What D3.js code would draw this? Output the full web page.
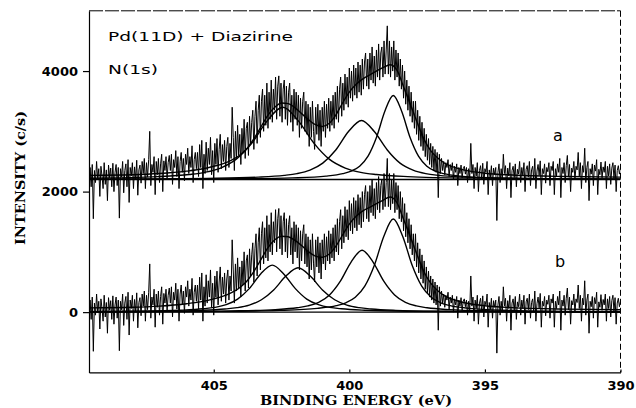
<!DOCTYPE html>
<html><head><meta charset="utf-8">
<script src="https://cdn.jsdelivr.net/npm/d3@7"></script>
<style>html,body{margin:0;padding:0;background:#fff;} svg{display:block;}</style>
</head><body>
<svg id="chart" width="636" height="408"></svg>
<script>
// ---- data (intensity in c/s) ----
const energyStart = 409.6, energyStep = 0.04;   // eV grid of the raw spectrum
// raw N(1s) counts (same measured spectrum shown twice, relative to its own baseline)
const counts = [
 -300,200,-120,250,-650,150,-50,300,0,180,-280,220,60,-150,280,-80,160,-350,240,30,190,-120,270,-200,120,
 250,-100,200,-640,180,40,300,-220,150,260,-120,330,-380,200,60,280,-150,210,0,320,-260,160,240,-60,300,
 100,350,-150,280,40,330,800,-100,250,120,380,-250,300,80,350,-50,260,420,-200,310,150,380,20,280,400,
 150,420,-80,330,200,480,50,380,-150,300,450,120,350,-20,420,250,520,100,380,200,560,-50,330,450,180,
 450,50,580,200,650,-150,420,100,620,150,520,250,700,80,480,-50,600,250,680,120,500,750,180,580,300,
 650,150,550,700,200,600,350,1200,700,150,800,350,900,400,750,250,850,450,1000,350,850,950,400,1050,600,
 950,1150,500,1050,1300,600,1150,1400,700,1300,1500,800,1400,900,1600,850,1450,1000,1650,950,1500,1150,1700,1000,1550,
 1720,1050,1600,950,1500,1650,1000,1550,900,1450,1600,950,1400,800,1500,1000,1450,900,1400,700,1350,850,1300,1450,800,
 1300,750,1250,550,1200,700,1300,800,500,1200,750,1250,650,1150,550,1200,800,1300,700,1250,850,1350,800,1300,900,
 1400,850,1450,1000,1550,950,1500,1700,1050,1600,1150,1750,1250,1700,1200,1850,1350,1800,1300,1900,1400,1850,1350,1950,1450,
 1900,1400,2000,1500,1950,2100,1550,2000,1500,2100,1650,2200,1600,2050,1550,2150,1700,2250,1650,2100,2200,1700,2300,1750,2150,
 2550,1750,2300,1700,2200,1800,2300,1650,2150,1700,2100,1550,2000,1500,1900,1350,1800,1250,1650,1150,1550,1050,1450,950,1300,
 850,1300,750,1150,650,1050,550,950,480,850,380,750,320,680,250,600,200,550,150,500,120,450,-300,420,100,
 350,150,300,80,280,200,330,50,250,150,280,0,220,120,260,-100,200,100,240,30,180,220,90,200,-50,
 180,20,600,100,250,-150,200,60,280,-200,150,230,10,270,-80,180,120,300,-250,160,40,230,-100,190,80,
 200,-680,120,260,-50,180,0,420,100,230,-150,190,60,280,-300,150,220,30,260,-120,170,90,300,-50,200,
 60,280,-200,170,230,40,300,-100,160,220,0,350,-150,140,250,70,310,-250,180,100,260,-60,200,130,280,
 -100,220,150,300,-250,180,60,260,120,350,-300,200,100,280,-50,230,400,40,250,-200,190,120,300,0,220,
 160,450,60,280,-150,230,120,520,-50,200,300,-350,180,90,260,-100,240,140,330,-250,170,80,290,30,210,
 120,300,-150,220,60,260,-80,190,280,20,240,-200,150,230,90,180
];
const offsetA = 2200, offsetB = 0;

// fitted components, [binding energy, intensity above baseline]
const baseA = [[409.6,0],[390,0]];
const fitA1 = [[409.6,3],[403.96,12],[402.10,27],[400.86,57],[400.24,98],[399.93,140],[399.62,222],[399.31,388],[399.00,698],[398.69,1133],[398.38,1395],[398.07,1133],[397.76,698],[397.45,388],[397.14,222],[396.83,140],[396.52,98],[395.90,57],[394.66,27],[392.80,12],[390,5]];
const fitA2 = [[409.6,6],[408.10,8],[405.25,19],[403.35,40],[402.40,69],[401.93,98],[401.45,156],[400.98,272],[400.50,490],[400.03,796],[399.55,980],[399.08,796],[398.60,490],[398.13,272],[397.65,156],[397.18,98],[396.70,69],[395.75,40],[393.85,19],[391.00,8],[390,7]];
const fitA3 = [[409.6,22],[407.05,49],[405.90,84],[405.33,120],[404.75,191],[404.18,334],[403.60,600],[403.03,974],[402.45,1200],[401.88,974],[401.30,600],[400.73,334],[400.15,191],[399.58,120],[399.00,84],[397.85,49],[395.55,23],[390,7]];
const envA = [[409.6,70],[408,80],[407,100],[406,140],[405.5,170],[405,220],[404.5,290],[404,420],[403.75,530],[403.5,690],[403.25,880],[403,1070],[402.75,1200],[402.5,1270],[402.25,1260],[402,1190],[401.75,1090],[401.5,990],[401.25,910],[401,880],[400.75,930],[400.5,1070],[400.25,1270],[400,1450],[399.75,1580],[399.5,1670],[399.25,1735],[399,1800],[398.75,1860],[398.5,1905],[398.25,1820],[398,1540],[397.75,1250],[397.5,950],[397.25,670],[397,480],[396.75,360],[396.5,275],[396,185],[395.5,135],[395,105],[394,75],[392,50],[390,40]];

const baseB = [[409.6,0],[390,0]];
const fitB1 = [[409.6,5],[404.68,13],[402.58,29],[401.18,63],[400.48,108],[400.13,155],[399.78,246],[399.43,430],[399.08,773],[398.73,1255],[398.38,1545],[398.03,1255],[397.68,773],[397.33,430],[396.98,246],[396.63,155],[396.28,108],[395.58,63],[394.18,29],[392.08,13],[390,7]];
const fitB2 = [[409.6,5],[406.73,9],[404.33,20],[402.73,42],[401.93,72],[401.53,103],[401.13,163],[400.73,286],[400.33,514],[399.93,835],[399.53,1028],[399.13,835],[398.73,514],[398.33,286],[397.93,163],[397.53,103],[397.13,72],[396.33,42],[394.73,20],[392.33,9],[390,5]];
const fitB3 = [[409.6,7],[407.29,14],[405.49,30],[404.59,52],[404.14,74],[403.69,117],[403.24,205],[402.79,368],[402.34,598],[401.89,736],[401.44,598],[400.99,368],[400.54,205],[400.09,117],[399.64,74],[399.19,52],[398.29,30],[396.49,14],[394.69,8],[390,3]];
const fitB4 = [[409.6,9],[407.94,15],[406.24,32],[405.39,55],[404.97,78],[404.54,124],[404.12,217],[403.69,390],[403.27,633],[402.84,780],[402.42,633],[401.99,390],[401.57,217],[401.14,124],[400.72,78],[400.29,55],[399.44,32],[397.74,15],[395.19,8],[390,2]];
const envB = [[409.6,70],[408,80],[407,100],[406,140],[405.5,170],[405,220],[404.5,290],[404,420],[403.75,530],[403.5,690],[403.25,880],[403,1070],[402.75,1200],[402.5,1260],[402.25,1250],[402,1190],[401.75,1100],[401.5,1000],[401.25,930],[401,910],[400.75,960],[400.5,1090],[400.25,1280],[400,1460],[399.75,1590],[399.5,1680],[399.25,1740],[399,1800],[398.75,1860],[398.5,1910],[398.25,1820],[398,1540],[397.75,1250],[397.5,950],[397.25,670],[397,480],[396.75,360],[396.5,275],[396,185],[395.5,135],[395,105],[394,75],[392,50],[390,40]];

const xTicks = [405, 400, 395, 390];
const yTicks = [0, 2000, 4000];
const xDomain = [409.6, 390];
const yDomain = [-1000, 5000];
const titleText = "Pd(11D) + Diazirine";
const subText = "N(1s)";
const labelA = "a", labelB = "b";
const xLabel = "BINDING ENERGY (eV)";
const yLabel = "INTENSITY (c/s)";

// ---- drawing ----
const svg = d3.select("#chart");
const L = 89, R = 620.5, T = 10.8, B = 372.4;
const x = d3.scaleLinear().domain(xDomain).range([L, R]);
const y = d3.scaleLinear().domain(yDomain).range([B, T]);

svg.append("rect").attr("width",636).attr("height",408).attr("fill","#fff");
svg.append("defs").append("clipPath").attr("id","clip")
  .append("rect").attr("x",L).attr("y",T).attr("width",R-L).attr("height",B-T);

const plot = svg.append("g").attr("clip-path","url(#clip)");
const energies = counts.map((_, i) => energyStart - i * energyStep);

function rawLine(off){
  return d3.line().x((d,i)=>x(energies[i])).y(d=>y(d+off))(counts);
}
[offsetA, offsetB].forEach(off=>{
  plot.append("path").attr("d", rawLine(off))
    .attr("fill","none").attr("stroke","#000").attr("stroke-width",1.0)
    .attr("stroke-linejoin","round");
});

const fitLine = off => d3.line().curve(d3.curveMonotoneX)
  .x(d=>x(d[0])).y(d=>y(d[1]+off));
[[baseA,fitA1,fitA2,fitA3,envA, offsetA],[baseB,fitB1,fitB2,fitB3,fitB4,envB, offsetB]].forEach(set=>{
  const off = set[set.length-1];
  set.slice(0,-1).forEach(c=>{
    plot.append("path").attr("d", fitLine(off)(c))
      .attr("fill","none").attr("stroke","#000").attr("stroke-width",1.4);
  });
});

// frame
svg.append("line").attr("x1",L).attr("x2",R).attr("y1",T).attr("y2",T)
  .attr("stroke","#000").attr("stroke-width",1).attr("stroke-dasharray","14,2");
svg.append("line").attr("x1",R).attr("x2",R).attr("y1",T).attr("y2",B)
  .attr("stroke","#000").attr("stroke-width",1).attr("stroke-dasharray","6,3");

const yAxis = svg.append("g").attr("transform",`translate(${L},0)`)
  .call(d3.axisLeft(y).tickValues(yTicks).tickSizeInner(6).tickSizeOuter(0).tickPadding(5).tickFormat(d3.format("d")));
const xAxis = svg.append("g").attr("transform",`translate(0,${B})`)
  .call(d3.axisBottom(x).tickValues(xTicks).tickSizeInner(-3).tickSizeOuter(0).tickPadding(8).tickFormat(d3.format("d")));
[yAxis, xAxis].forEach(a=>{
  a.selectAll("path,line").attr("stroke","#000").attr("stroke-width",1.2);
  a.selectAll("text").attr("font-family","'DejaVu Sans', sans-serif")
    .attr("font-weight","bold").attr("font-size",13).attr("fill","#000");
});

// axis titles
svg.append("text").attr("x",356).attr("y",405).attr("text-anchor","middle")
  .attr("font-family","'DejaVu Serif', serif").attr("font-weight","bold").attr("font-size",13)
  .attr("textLength",192).attr("lengthAdjust","spacingAndGlyphs").text(xLabel);
svg.append("text").attr("transform","translate(25,178) rotate(-90)").attr("text-anchor","middle")
  .attr("font-family","'DejaVu Serif', serif").attr("font-weight","bold").attr("font-size",12)
  .attr("textLength",134).attr("lengthAdjust","spacingAndGlyphs").text(yLabel);

// annotations
svg.append("text").attr("x",108).attr("y",40.5)
  .attr("font-family","'DejaVu Sans', sans-serif").attr("font-size",12.5)
  .attr("textLength",185).attr("lengthAdjust","spacingAndGlyphs").text(titleText);
svg.append("text").attr("x",108).attr("y",74)
  .attr("font-family","'DejaVu Sans', sans-serif").attr("font-size",12.5)
  .attr("textLength",50).attr("lengthAdjust","spacingAndGlyphs").text(subText);
svg.append("text").attr("x",558).attr("y",141).attr("text-anchor","middle")
  .attr("font-family","'DejaVu Sans', sans-serif").attr("font-size",16).text(labelA);
svg.append("text").attr("x",560).attr("y",267).attr("text-anchor","middle")
  .attr("font-family","'DejaVu Sans', sans-serif").attr("font-size",16).text(labelB);
</script>
</body></html>
